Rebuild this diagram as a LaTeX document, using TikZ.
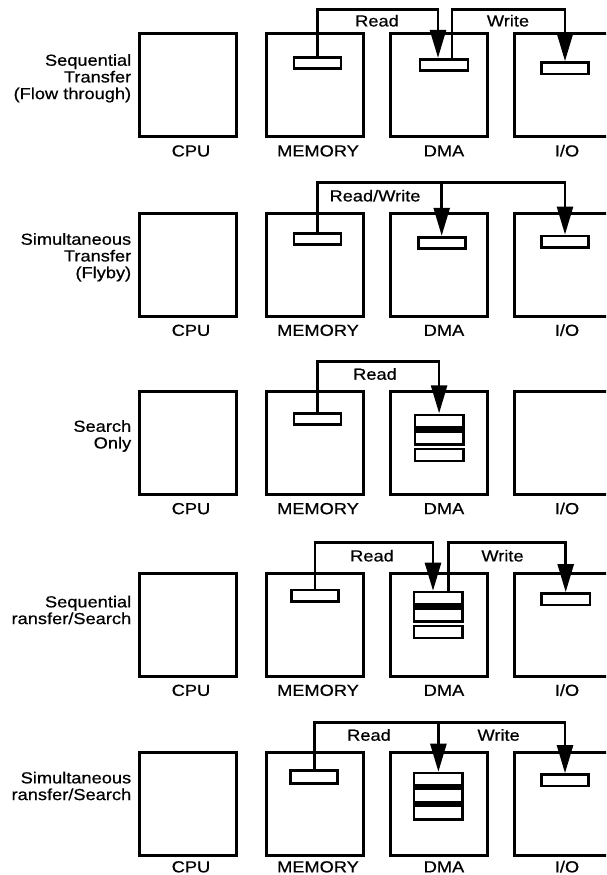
\documentclass[tikz,border=0pt]{standalone}
\usepackage{fontspec}
\setmainfont{Liberation Sans}[FakeStretch=1.14,FakeBold=0.6]
\usetikzlibrary{arrows.meta,calc}
\begin{document}
\begin{tikzpicture}[x=1pt,y=-1pt,
  bigbox/.style={draw,line width=3.3pt,minimum width=97pt,minimum height=103pt,inner sep=0pt},
  srect/.style={draw,line width=2.8pt,fill=white,inner sep=0pt,minimum width=47pt,minimum height=11.5pt},
  blk/.style={fill=black,inner sep=0pt,minimum width=51pt,anchor=north},
  wht/.style={fill=white,inner sep=0pt,minimum width=46pt,anchor=north},
  conn/.style={line width=2.6pt},
  tip/.style={-{Triangle[length=28pt,width=16pt]}},
  lbl/.style={font=\fontsize{16}{16.7}\selectfont,inner sep=0pt},
  side/.style={lbl,align=right,anchor=east}]
\useasboundingbox (0,0) rectangle (606,875);
\clip (0,0) rectangle (606,875);
% boxes and their labels
\foreach \p/\cy/\ls in {1/85.3/-18,2/264.7/-18,3/443/-18,4/624.7/-18,5/803.7/-15.5}{
  \node[bigbox] (cpu\p) at (188,\cy) {};
  \node[bigbox] (mem\p box) at (315,\cy) {};
  \node[bigbox] (dma\p box) at (439,\cy) {};
  \node[bigbox] (io\p box) at (563,\cy) {};
  \node[lbl,anchor=base] (lc\p) at ([xshift=3pt,yshift=\ls pt]cpu\p.south) {CPU};
  \node[lbl,anchor=base] (lm\p) at ([xshift=3pt,yshift=\ls pt]mem\p box.south) {MEMORY};
  \node[lbl,anchor=base] (ld\p) at ([xshift=5pt,yshift=\ls pt]dma\p box.south) {DMA};
  \node[lbl,anchor=base] (li\p) at ([xshift=4pt,yshift=\ls pt]io\p box.south) {I/O};
}
% side labels
\node[side] (s1) at (131.4,78.3) {Sequential\\Transfer\\(Flow through)};
\node[side] (s2) at (131.4,257.3) {Simultaneous\\Transfer\\(Flyby)};
\node[side] (s3) at (131.4,436) {Search\\Only};
\node[side] (s4) at (131.4,610) {Sequential\\ransfer/Search};
\node[side] (s5) at (131.4,786) {Simultaneous\\ransfer/Search};

% ---- Panel 1
\node[srect,minimum width=47pt] (mem1) at (317.5,63) {};
\node[srect,minimum width=48pt] (dma1) at (444,65) {};
\node[srect,minimum width=47pt] (io1) at (565,68.3) {};
\coordinate (tp1) at (0,9.3);
\coordinate (r1) at ([xshift=-6pt]dma1.north);
\coordinate (w1) at ([xshift=8pt]dma1.north);
\draw[conn,tip] (mem1.north) -- (mem1.north |- tp1) -| (r1);
\draw[conn,tip] (w1) -- (w1 |- tp1) -| (io1.north);
\node[lbl] (rd1) at (377,20.7) {Read};
\node[lbl] (wr1) at (508,20.7) {Write};

% ---- Panel 2
\node[srect] (mem2) at (317.5,238.9) {};
\node[srect] (dma2) at (441.7,242.9) {};
\node[srect] (io2) at (565,241.7) {};
\coordinate (tp2) at (0,182.3);
\draw[conn,tip] (mem2.north) -- (mem2.north |- tp2) -| (io2.north);
\draw[conn,tip] (dma2.north |- tp2) -- (dma2.north);
\node[lbl] (rw2) at (375,195.7) {Read/Write};

% ---- Panel 3
\node[srect] (mem3) at (317.5,418.9) {};
\node[blk,minimum height=32.3pt] (dma3) at (439.1,413.3) {};
\node[wht,minimum height=9.7pt] (dma3a) at (439.1,415.6) {};
\node[wht,minimum height=10pt] (dma3b) at (439.1,432.3) {};
\node[blk,minimum height=14.4pt] (dma3c) at (439.1,447.3) {};
\node[wht,minimum height=9.7pt] (dma3d) at (439.1,449.6) {};
\coordinate (tp3) at (0,361.7);
\draw[conn,tip] (mem3.north) -- (mem3.north |- tp3) -| (dma3.north);
\node[lbl] (rd3) at (375,374) {Read};

% ---- Panel 4
\node[srect] (mem4) at (315,595.8) {};
\node[blk,minimum height=32.3pt] (dma4) at (438.4,590.7) {};
\node[wht,minimum height=9.7pt] (dma4a) at (438.4,593) {};
\node[wht,minimum height=10pt] (dma4b) at (438.4,609.7) {};
\node[blk,minimum height=14.4pt] (dma4c) at (438.4,624.7) {};
\node[wht,minimum height=9.7pt] (dma4d) at (438.4,627) {};
\node[srect,minimum width=48.5pt] (io4) at (565.7,599.2) {};
\coordinate (tp4) at (0,542.3);
\coordinate (r4) at ([xshift=-5.4pt]dma4.north);
\coordinate (w4) at ([xshift=10pt]dma4.north);
\draw[conn,tip] (mem4.north) -- (mem4.north |- tp4) -| (r4);
\draw[conn,tip] (w4) -- (w4 |- tp4) -| (io4.north);
\node[lbl] (rd4) at (372,555.7) {Read};
\node[lbl] (wr4) at (502.5,555.7) {Write};

% ---- Panel 5
\node[srect,minimum height=12.5pt] (mem5) at (314.2,777) {};
\node[blk,minimum height=49pt] (dma5) at (438.4,771.7) {};
\node[wht,minimum height=10pt] (dma5a) at (438.4,774.2) {};
\node[wht,minimum height=10.5pt] (dma5b) at (438.4,790.2) {};
\node[wht,minimum height=11pt] (dma5c) at (438.4,806.7) {};
\node[srect] (io5) at (565,780.3) {};
\coordinate (tp5) at (0,722.7);
\draw[conn,tip] (mem5.north) -- (mem5.north |- tp5) -| (io5.north);
\draw[conn,tip] (dma5.north |- tp5) -- (dma5.north);
\node[lbl] (rd5) at (369,735) {Read};
\node[lbl] (wr5) at (498.6,735) {Write};
\end{tikzpicture}
\end{document}
